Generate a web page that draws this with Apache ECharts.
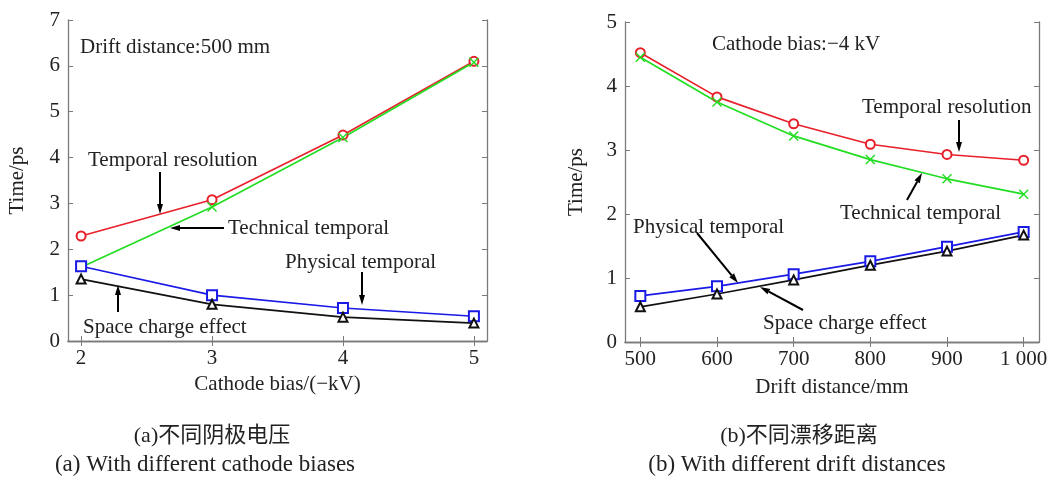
<!DOCTYPE html>
<html>
<head>
<meta charset="utf-8">
<script src="https://cdn.jsdelivr.net/npm/echarts@6/dist/echarts.min.js"></script>
<style>
  html, body { margin: 0; padding: 0; background: #fff; }
  #div_chart { width: 1055px; height: 486px; }
</style>
</head>
<body>
<div id="div_chart"></div>
<script>
"use strict";

// (a) with different cathode biases, drift distance 500 mm
const bias_kv = [2, 3, 4, 5];
const bias_temporal_resolution = [2.29, 3.08, 4.49, 6.10];
const bias_technical_temporal = [1.61, 2.92, 4.44, 6.08];
const bias_physical_temporal = [1.63, 1.00, 0.72, 0.54];
const bias_space_charge = [1.35, 0.80, 0.52, 0.39];
const bias_ticks = [2, 3, 4, 5];

// (b) with different drift distances, cathode bias -4 kV
const drift_mm = [500, 600, 700, 800, 900, 1000];
const drift_temporal_resolution = [4.52, 3.83, 3.41, 3.09, 2.93, 2.84];
const drift_technical_temporal = [4.45, 3.75, 3.22, 2.85, 2.55, 2.31];
const drift_physical_temporal = [0.72, 0.87, 1.06, 1.26, 1.49, 1.72];
const drift_space_charge = [0.55, 0.75, 0.97, 1.20, 1.42, 1.67];
const drift_ticks = [500, 600, 700, 800, 900, 1000];
const drift_tick_labels = ["500", "600", "700", "800", "900", "1 000"];

const serif = "'Liberation Serif', 'Times New Roman', serif";
const cap_font = "'Liberation Serif', 'Noto Sans CJK SC', serif";
const fs = 21;
const axis_gray = "#7a7a7a";

const c_red = "#e8202a";
const c_green = "#22dd22";
const c_blue = "#1a1ae6";
const c_black = "#111111";
// an "x" marker as filled outline
const sym_x = "path://M0,1L1,0L5,4L9,0L10,1L6,5L10,9L9,10L5,6L1,10L0,9L4,5Z";

const html_div_chart = document.getElementById("div_chart");
const chart = echarts.init(html_div_chart);

function make_series(name, xs, ys, idx, color, symbol, size) {
  return {
    type: "line",
    name: name,
    xAxisIndex: idx,
    yAxisIndex: idx,
    data: xs.map((x, i) => [x, ys[i]]),
    symbol: symbol,
    symbolSize: size,
    lineStyle: { color: color, width: 1.7 },
    itemStyle: { color: color, borderColor: color, borderWidth: symbol === sym_x ? 0 : 1.4 },
    animation: false,
    silent: true,
  };
}

function bottom_x(grid, min, max, ticks, name, gap, fmt) {
  return {
    type: "value", gridIndex: grid, position: "bottom", min: min, max: max,
    name: name, nameLocation: "middle", nameGap: gap,
    nameTextStyle: { fontFamily: serif, fontSize: fs, color: "#222" },
    axisLine: { show: true, lineStyle: { color: axis_gray, width: 1.3 } },
    axisTick: { show: true, inside: true, length: 5, customValues: ticks, lineStyle: { color: axis_gray } },
    axisLabel: { show: true, customValues: ticks, margin: 7, fontFamily: serif, fontSize: fs, color: "#222", formatter: fmt },
    splitLine: { show: false },
  };
}

function top_x(grid, min, max, ticks) {
  return {
    type: "value", gridIndex: grid, position: "top", min: min, max: max,
    axisLine: { show: true, lineStyle: { color: axis_gray, width: 1.3 } },
    axisTick: { show: true, inside: true, length: 5, customValues: ticks, lineStyle: { color: axis_gray } },
    axisLabel: { show: false },
    splitLine: { show: false },
  };
}

function left_y(grid, max, gap) {
  return {
    type: "value", gridIndex: grid, position: "left", min: 0, max: max, interval: 1,
    name: "Time/ps", nameLocation: "middle", nameGap: gap,
    nameTextStyle: { fontFamily: serif, fontSize: fs, color: "#222" },
    axisLine: { show: true, lineStyle: { color: axis_gray, width: 1.3 } },
    axisTick: { show: true, inside: true, length: 5, lineStyle: { color: axis_gray } },
    axisLabel: { show: true, margin: 8, fontFamily: serif, fontSize: fs, color: "#222" },
    splitLine: { show: false },
  };
}

function right_y(grid, max) {
  return {
    type: "value", gridIndex: grid, position: "right", min: 0, max: max, interval: 1,
    axisLine: { show: true, lineStyle: { color: axis_gray, width: 1.3 } },
    axisTick: { show: true, inside: true, length: 5, lineStyle: { color: axis_gray } },
    axisLabel: { show: false },
    splitLine: { show: false },
  };
}

// arrow from (x1,y1) to tip (x2,y2)
function arrow(x1, y1, x2, y2) {
  const ang = Math.atan2(y2 - y1, x2 - x1);
  const len = 10, half = 3;
  const bx = x2 - len * Math.cos(ang), by = y2 - len * Math.sin(ang);
  const px = -Math.sin(ang) * half, py = Math.cos(ang) * half;
  return [
    { type: "line", shape: { x1: x1, y1: y1, x2: bx, y2: by }, style: { stroke: "#000", lineWidth: 2 }, z: 100 },
    { type: "polygon", shape: { points: [[x2, y2], [bx + px, by + py], [bx - px, by - py]] }, style: { fill: "#000" }, z: 100 },
  ];
}

function label(text, x, y, font, align, size) {
  return {
    type: "text", x: x, y: y, z: 100,
    style: { text: text, fontFamily: font || serif, fontSize: size || fs, fill: "#222", align: align || "left", verticalAlign: "middle" },
  };
}

const graphics = [
  label("Drift distance:500 mm", 80, 47),
  label("Temporal resolution", 88, 160),
  label("Technical temporal", 228, 228),
  label("Physical temporal", 285, 262),
  label("Space charge effect", 83, 327),
  label("Cathode bias:\u22124 kV", 712, 44),
  label("Temporal resolution", 862, 107),
  label("Technical temporal", 840, 213),
  label("Physical temporal", 633, 227),
  label("Space charge effect", 763, 323),
  ...arrow(160, 172, 160, 214),
  ...arrow(224, 228, 170, 228),
  ...arrow(362, 272, 362, 305),
  ...arrow(118, 312, 118, 285),
  ...arrow(959, 120, 959, 152),
  ...arrow(907, 200, 922, 173),
  ...arrow(697, 233, 738, 283),
  ...arrow(803, 310, 760, 287),
  label("(a)\u4e0d\u540c\u9634\u6781\u7535\u538b", 212, 436, cap_font, "center", 22),
  label("(a) With different cathode biases", 205, 465, cap_font, "center", 23),
  label("(b)\u4e0d\u540c\u6f02\u79fb\u8ddd\u79bb", 799, 436, cap_font, "center", 22),
  label("(b) With different drift distances", 797, 465, cap_font, "center", 23),
];

chart.setOption({
  animation: false,
  grid: [
    { left: 68, top: 20, width: 419, height: 321 },
    { left: 625, top: 22, width: 414, height: 320 },
  ],
  xAxis: [
    bottom_x(0, 1.9, 5.1, bias_ticks, "Cathode bias/(\u2212kV)", 33, null),
    bottom_x(1, 480, 1020, drift_ticks, "Drift distance/mm", 35, function (v) {
      const i = drift_ticks.indexOf(v);
      return i >= 0 ? drift_tick_labels[i] : "";
    }),
    top_x(0, 1.9, 5.1, bias_ticks),
    top_x(1, 480, 1020, drift_ticks),
  ],
  yAxis: [
    left_y(0, 7, 40),
    left_y(1, 5, 38),
    right_y(0, 7),
    right_y(1, 5),
  ],
  series: [
    make_series("Temporal resolution", bias_kv, bias_temporal_resolution, 0, c_red, "emptyCircle", 9),
    make_series("Technical temporal", bias_kv, bias_technical_temporal, 0, c_green, sym_x, 10),
    make_series("Physical temporal", bias_kv, bias_physical_temporal, 0, c_blue, "emptyRect", 10),
    make_series("Space charge effect", bias_kv, bias_space_charge, 0, c_black, "emptyTriangle", 9),
    make_series("Temporal resolution", drift_mm, drift_temporal_resolution, 1, c_red, "emptyCircle", 9),
    make_series("Technical temporal", drift_mm, drift_technical_temporal, 1, c_green, sym_x, 10),
    make_series("Physical temporal", drift_mm, drift_physical_temporal, 1, c_blue, "emptyRect", 10),
    make_series("Space charge effect", drift_mm, drift_space_charge, 1, c_black, "emptyTriangle", 9),
  ],
  graphic: graphics,
});
</script>
</body>
</html>
